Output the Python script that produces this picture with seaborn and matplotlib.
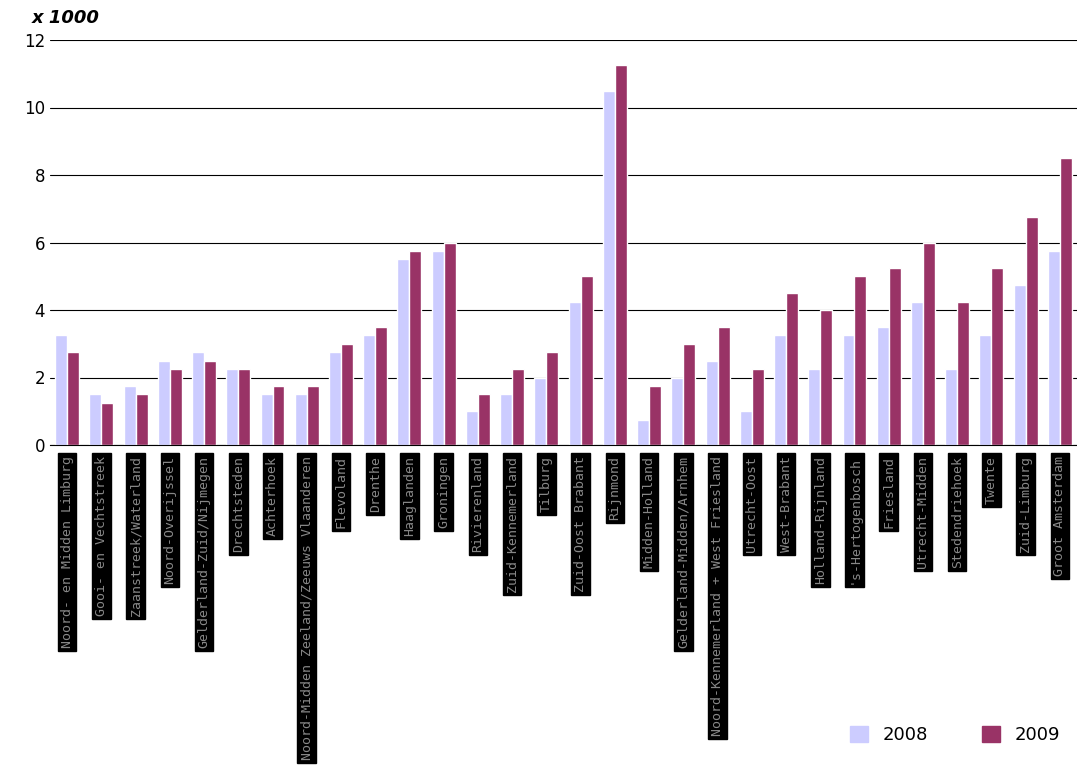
import matplotlib
matplotlib.use("Agg")
import matplotlib.pyplot as plt
import seaborn as sns
import pandas as pd

regions = ["Noord- en Midden Limburg", "Gooi- en Vechtstreek", "Zaanstreek/Waterland",
           "Noord-Overijssel", "Gelderland-Zuid/Nijmegen", "Drechtsteden", "Achterhoek",
           "Noord-Midden Zeeland/Zeeuws Vlaanderen", "Flevoland", "Drenthe", "Haaglanden",
           "Groningen", "Rivierenland", "Zuid-Kennemerland", "Tilburg", "Zuid-Oost Brabant",
           "Rijnmond", "Midden-Holland", "Gelderland-Midden/Arnhem",
           "Noord-Kennemerland + West Friesland", "Utrecht-Oost", "West-Brabant",
           "Holland-Rijnland", "'s-Hertogenbosch", "Friesland", "Utrecht-Midden",
           "Stedendriehoek", "Twente", "Zuid-Limburg", "Groot Amsterdam"]
v2008 = [3.25, 1.5, 1.75, 2.5, 2.75, 2.25, 1.5, 1.5, 2.75, 3.25, 5.5, 5.75, 1.0, 1.5, 2.0,
         4.25, 10.5, 0.75, 2.0, 2.5, 1.0, 3.25, 2.25, 3.25, 3.5, 4.25, 2.25, 3.25, 4.75, 5.75]
v2009 = [2.75, 1.25, 1.5, 2.25, 2.5, 2.25, 1.75, 1.75, 3.0, 3.5, 5.75, 6.0, 1.5, 2.25, 2.75,
         5.0, 11.25, 1.75, 3.0, 3.5, 2.25, 4.5, 4.0, 5.0, 5.25, 6.0, 4.25, 5.25, 6.75, 8.5]
years = ["2008", "2009"]

df = pd.DataFrame({"region": regions * 2,
                   "value": v2008 + v2009,
                   "year": [years[0]] * len(regions) + [years[1]] * len(regions)})

sns.set_style("white")
fig = plt.figure(figsize=(10.77, 7.71), dpi=100)
ax = fig.add_axes([50/1077, 326/771, 1027/1077, 405/771])
sns.barplot(data=df, x="region", y="value", hue="year", ax=ax,
            palette=["#ccccff", "#993366"], width=0.7, saturation=1, legend=False)
ax.set_ylim(0, 12)
ax.set_yticks(range(0, 13, 2))
ax.yaxis.grid(True, color="black", linewidth=0.8)
ax.set_axisbelow(True)
for s in ["left", "right", "top"]:
    ax.spines[s].set_visible(False)
ax.spines["bottom"].set_color("black")
ax.set_xlabel("")
ax.set_ylabel("")
ax.tick_params(axis="both", length=0, labelsize=12, labelcolor="black")
ax.tick_params(axis="x", pad=8)
ax.set_xticks(range(len(regions)))
ax.set_xticklabels(regions, rotation=90, fontsize=9.5, color="#888888", va="top", ha="center",
                   family="DejaVu Sans Mono")
for t in ax.get_xticklabels():
    t.set_bbox(dict(facecolor="black", edgecolor="black", pad=2))
fig.text(32/1077, 1 - 18/771, "x 1000", fontsize=13, fontweight="bold", fontstyle="italic",
         va="center", ha="left", color="black")
handles = [plt.Rectangle((0, 0), 1, 1, color=c) for c in ["#ccccff", "#993366"]]
fig.legend(handles, years, loc="center", bbox_to_anchor=(955/1077, 1 - 735/771), ncol=2,
           frameon=False, fontsize=13, handlelength=1, handleheight=1, columnspacing=3,
           labelcolor="black")
fig.savefig("out.png", dpi=100)
